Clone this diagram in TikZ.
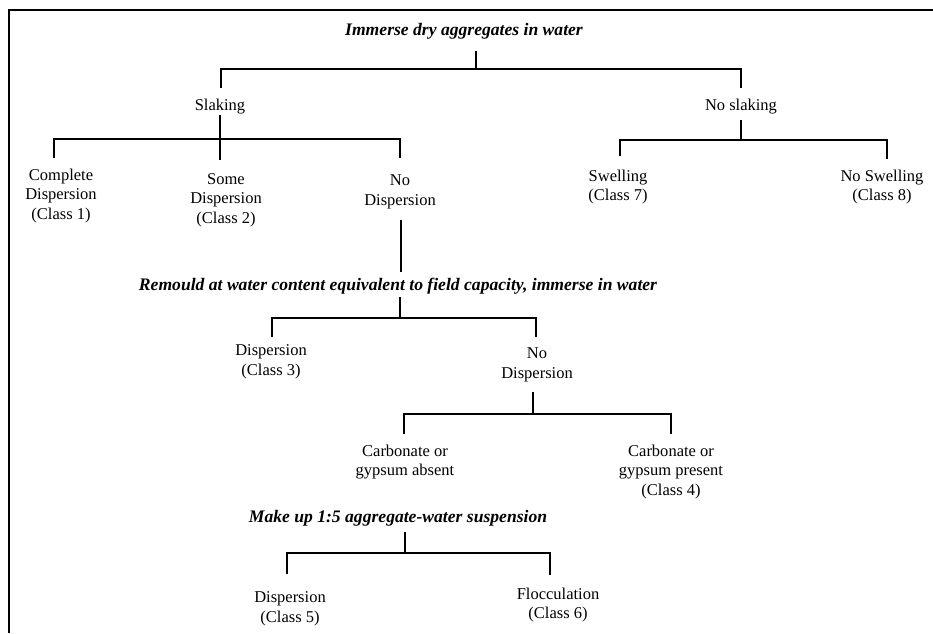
\documentclass[tikz,border=0pt]{standalone}
\usepackage{fontspec}
\setmainfont{Liberation Serif}
\begin{document}
\begin{tikzpicture}[x=1pt,y=-1pt,
  lbl/.style={align=center,inner sep=0pt,font=\fontsize{16.5}{19.5}\selectfont},
  hd/.style={align=center,inner sep=0pt,font=\fontsize{17.6}{20}\selectfont\bfseries\itshape},
  ln/.style={line width=1.1pt},
  frame/.style={line width=2.3pt}]
\useasboundingbox (0,0) rectangle (933,633);
\draw[frame] (7.85,10) -- (933,10);
\draw[frame] (9,8.85) -- (9,633);
% nodes
\node[hd] (t1) at (464,31) {Immerse dry aggregates in water};
\node[lbl] (slak) at (220,107) {Slaking};
\node[lbl] (noslak) at (741,107) {No slaking};
\node[lbl] (c1) at (61,196) {Complete\\Dispersion\\(Class 1)};
\node[lbl] (c2) at (226,200) {Some\\Dispersion\\(Class 2)};
\node[lbl] (nd1) at (400,192) {No\\Dispersion};
\node[lbl] (sw) at (618,187) {Swelling\\(Class 7)};
\node[lbl] (nsw) at (882,187) {No Swelling\\(Class 8)};
\node[hd] (t2) at (398,286) {Remould at water content equivalent to field capacity, immerse in water};
\node[lbl] (d3) at (271,362) {Dispersion\\(Class 3)};
\node[lbl] (nd2) at (537,365) {No\\Dispersion};
\node[lbl] (ca) at (405,462) {Carbonate or\\gypsum absent};
\node[lbl] (cp) at (671,472) {Carbonate or\\gypsum present\\(Class 4)};
\node[hd] (t3) at (398,518) {Make up 1:5 aggregate-water suspension};
\node[lbl] (d5) at (290,609) {Dispersion\\(Class 5)};
\node[lbl] (fl) at (558,605) {Flocculation\\(Class 6)};
% level 1
\coordinate (t1s) at (476,51);
\coordinate (j1) at (476,69);
\coordinate (j1l) at (221,69);
\coordinate (j1r) at (741,69);
\coordinate (slakn) at (221,88);
\coordinate (noslakn) at (741,88);
\draw[ln] (t1s) -- (j1);
\draw[ln] (slakn) -- (j1l) -- (j1r) -- (noslakn);
% slaking branch
\coordinate (slaks) at (220,115);
\coordinate (j2) at (220,139);
\coordinate (j2l) at (54,139);
\coordinate (j2r) at (400,139);
\coordinate (c1n) at (54,158);
\coordinate (c2n) at (220,160);
\coordinate (nd1n) at (400,158);
\draw[ln] (slaks) -- (c2n);
\draw[ln] (c1n) -- (j2l) -- (j2r) -- (nd1n);
% no slaking branch
\coordinate (noslaks) at (741,120);
\coordinate (j3) at (741,140);
\coordinate (j3l) at (620,140);
\coordinate (j3r) at (887,140);
\coordinate (swn) at (620,156);
\coordinate (nswn) at (887,159);
\draw[ln] (noslaks) -- (j3);
\draw[ln] (swn) -- (j3l) -- (j3r) -- (nswn);
% no dispersion to remould
\coordinate (nd1s) at (401,220);
\coordinate (t2n) at (401,272);
\draw[ln] (nd1s) -- (t2n);
% remould branch
\coordinate (t2s) at (400,297);
\coordinate (j4) at (400,318);
\coordinate (j4l) at (272,318);
\coordinate (j4r) at (536,318);
\coordinate (d3n) at (272,337);
\coordinate (nd2n) at (536,337);
\draw[ln] (t2s) -- (j4);
\draw[ln] (d3n) -- (j4l) -- (j4r) -- (nd2n);
% no dispersion 2 branch
\coordinate (nd2s) at (533,392);
\coordinate (j5) at (533,414);
\coordinate (j5l) at (404,414);
\coordinate (j5r) at (671,414);
\coordinate (can) at (404,434);
\coordinate (cpn) at (671,434);
\draw[ln] (nd2s) -- (j5);
\draw[ln] (can) -- (j5l) -- (j5r) -- (cpn);
% make up branch
\coordinate (t3s) at (405,532);
\coordinate (j6) at (405,553);
\coordinate (j6l) at (287,553);
\coordinate (j6r) at (550,553);
\coordinate (d5n) at (287,574);
\coordinate (fln) at (550,575);
\draw[ln] (t3s) -- (j6);
\draw[ln] (d5n) -- (j6l) -- (j6r) -- (fln);
\end{tikzpicture}
\end{document}
